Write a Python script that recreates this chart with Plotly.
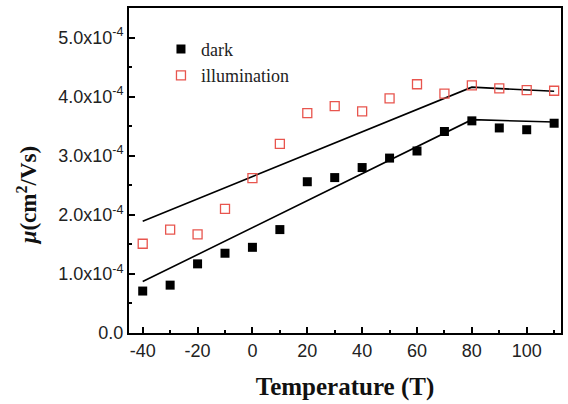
import plotly.graph_objects as go

temps = [-40, -30, -20, -10, 0, 10, 20, 30, 40, 50, 60, 70, 80, 90, 100, 110]
dark = [0.71, 0.81, 1.17, 1.35, 1.45, 1.75, 2.56, 2.63, 2.80, 2.96, 3.08, 3.41, 3.59, 3.47, 3.44, 3.55]
illum = [1.51, 1.75, 1.67, 2.10, 2.62, 3.20, 3.72, 3.84, 3.75, 3.97, 4.21, 4.05, 4.19, 4.14, 4.11, 4.10]
fit_x = [-40, 80, 110]
fit_dark = [0.87, 3.61, 3.57]
fit_illum = [1.89, 4.16, 4.09]
scale = 1e-4

ytick_vals = [0, 1, 2, 3, 4, 5]
ytick_text = ["0.0", "1.0x10<sup>-4</sup>", "2.0x10<sup>-4</sup>", "3.0x10<sup>-4</sup>",
              "4.0x10<sup>-4</sup>", "5.0x10<sup>-4</sup>"]
xtick_vals = [-40, -20, 0, 20, 40, 60, 80, 100]
xtick_text = ["-40", "-20", "0", "20", "40", "60", "80", "100"]

fig = go.Figure()
fig.add_trace(go.Scatter(x=fit_x, y=[v * scale for v in fit_illum], mode="lines",
                         line=dict(color="black", width=1.6), showlegend=False, hoverinfo="skip"))
fig.add_trace(go.Scatter(x=fit_x, y=[v * scale for v in fit_dark], mode="lines",
                         line=dict(color="black", width=1.6), showlegend=False, hoverinfo="skip"))
fig.add_trace(go.Scatter(x=temps, y=[v * scale for v in dark], mode="markers", name="dark",
                         marker=dict(symbol="square", size=9, color="black")))
fig.add_trace(go.Scatter(x=temps, y=[v * scale for v in illum], mode="markers", name="illumination",
                         marker=dict(symbol="square-open", size=9, color="#e8554e",
                                     line=dict(width=1.3, color="#e8554e"))))

axis_common = dict(showline=True, linecolor="black", linewidth=2, mirror=True,
                   ticks="inside", ticklen=6, tickwidth=1.5, tickcolor="black",
                   showgrid=False, zeroline=False,
                   tickfont=dict(family="Liberation Sans, Arial", size=18, color="#222"))

fig.update_xaxes(range=[-45, 112.5], tickvals=xtick_vals, ticktext=xtick_text,
                 minor=dict(ticks="inside", dtick=10, tick0=0, ticklen=3, tickwidth=1.5, tickcolor="black"),
                 title=dict(text="<b>Temperature (T)</b>", standoff=18,
                            font=dict(family="Liberation Serif, Times New Roman", size=25, color="#111")),
                 **axis_common)
fig.update_yaxes(range=[0, 5.5 * scale], tickvals=[v * scale for v in ytick_vals], ticktext=ytick_text,
                 minor=dict(ticks="inside", dtick=0.5 * scale, tick0=0, ticklen=3, tickwidth=1.5, tickcolor="black"),
                 **axis_common)

fig.add_annotation(x=-0.235, y=0.425, xref="paper", yref="paper", textangle=-90,
                   xanchor="center", yanchor="middle",
                   text="<b><i>μ</i>(cm<sup>2</sup>/Vs)</b>", showarrow=False,
                   font=dict(family="Liberation Serif, Times New Roman", size=23, color="#111"))

fig.update_layout(width=568, height=404, margin=dict(l=129, r=5, t=8, b=71),
                  plot_bgcolor="white", paper_bgcolor="white",
                  legend=dict(x=0.074, y=0.93, xanchor="left", yanchor="top",
                              bgcolor="rgba(0,0,0,0)",
                              font=dict(family="Liberation Serif, Times New Roman", size=18, color="#222")))

fig.write_html("out.html")
